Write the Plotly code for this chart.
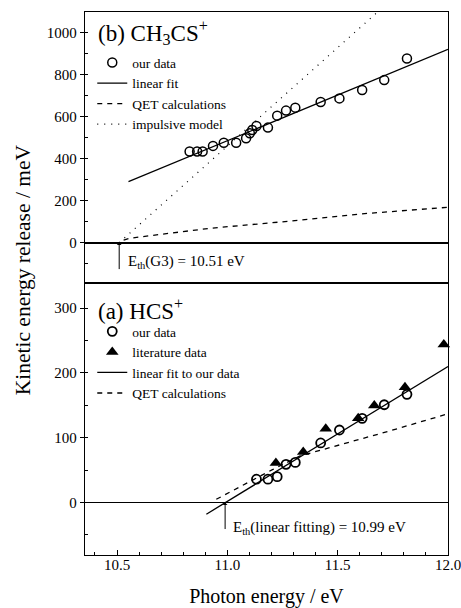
import plotly.graph_objects as go
from plotly.subplots import make_subplots

# ---- panel (b) CH3CS+ ----
b_x = [10.829, 10.863, 10.888, 10.935, 10.984, 11.040, 11.085, 11.102, 11.113, 11.132,
       11.184, 11.226, 11.266, 11.308, 11.423, 11.508, 11.611, 11.711, 11.814]
b_y = [433, 433, 433, 460, 475, 475, 496, 520, 536, 555,
       547, 604, 628, 642, 669, 686, 726, 773, 876]
b_fit_x = [10.552, 12.0]
b_fit_y = [290, 919]
b_qet_x = [10.53, 10.56, 10.92, 11.23, 11.61, 11.98, 12.0]
b_qet_y = [12, 21, 68, 97, 137, 167, 168]
b_imp_x = [10.51, 11.70]
b_imp_y = [0, 1115]

# ---- panel (a) HCS+ ----
a_x = [11.132, 11.184, 11.226, 11.266, 11.308, 11.423, 11.508, 11.611, 11.711, 11.814]
a_y = [36, 36, 40, 59, 62, 92, 112, 130, 151, 167]
a_lit_x = [11.220, 11.344, 11.446, 11.593, 11.666, 11.805, 11.981]
a_lit_y = [61, 78, 114, 130, 150, 178, 244]
a_fit_x = [10.905, 12.0]
a_fit_y = [-18, 210]
a_qet_x = [10.95, 11.0, 11.1, 11.2, 11.33, 11.48, 11.73, 12.0]
a_qet_y = [5, 14, 32, 50, 72, 86, 110, 137]

x_ticks = [10.5, 11.0, 11.5, 12.0]
x_ticklabels = ["10.5", "11.0", "11.5", "12.0"]

FONT = "Liberation Serif"

fig = make_subplots(rows=2, cols=1, shared_xaxes=True, vertical_spacing=0)

blk = "black"
# top traces
fig.add_trace(go.Scatter(x=b_x, y=b_y, mode="markers", name="our data",
                         marker=dict(symbol="circle-open", size=9, color=blk, line=dict(width=1.5)),
                         legend="legend"), row=1, col=1)
fig.add_trace(go.Scatter(x=b_fit_x, y=b_fit_y, mode="lines", name="linear fit",
                         line=dict(color=blk, width=1.3), legend="legend"), row=1, col=1)
fig.add_trace(go.Scatter(x=b_qet_x, y=b_qet_y, mode="lines", name="QET calculations",
                         line=dict(color=blk, width=1.3, dash="5px,5px"), legend="legend"), row=1, col=1)
fig.add_trace(go.Scatter(x=b_imp_x, y=b_imp_y, mode="lines", name="impulsive model",
                         line=dict(color=blk, width=1.2, dash="1px,6px"), legend="legend"), row=1, col=1)

# bottom traces
fig.add_trace(go.Scatter(x=a_x, y=a_y, mode="markers", name="our data",
                         marker=dict(symbol="circle-open", size=9, color=blk, line=dict(width=1.8)),
                         legend="legend2"), row=2, col=1)
fig.add_trace(go.Scatter(x=a_lit_x, y=a_lit_y, mode="markers", name="literature data",
                         marker=dict(symbol="triangle-up", size=11, color=blk), cliponaxis=False,
                         legend="legend2"), row=2, col=1)
fig.add_trace(go.Scatter(x=a_fit_x, y=a_fit_y, mode="lines", name="linear fit to our data",
                         line=dict(color=blk, width=1.3), legend="legend2"), row=2, col=1)
fig.add_trace(go.Scatter(x=a_qet_x, y=a_qet_y, mode="lines", name="QET calculations",
                         line=dict(color=blk, width=1.3, dash="5px,5px"), legend="legend2"), row=2, col=1)

tickfont = dict(family=FONT, size=15, color=blk)
common_x = dict(range=[10.355, 12.0], showline=True, linecolor=blk, linewidth=1.3, mirror=True,
                showgrid=False, zeroline=False, automargin=False)
fig.update_xaxes(**common_x, ticks="", showticklabels=False, row=1, col=1)
fig.update_xaxes(**common_x, ticks="inside", ticklen=5, tickwidth=1, tickcolor=blk,
                 tickvals=x_ticks, ticktext=x_ticklabels, tickfont=tickfont,
                 ticklabeloverflow="allow", ticklabelstandoff=-4,
                 minor=dict(ticks="inside", ticklen=3, dtick=0.1, tickcolor=blk),
                 title=dict(text="Photon energy / eV", font=dict(family=FONT, size=20, color=blk),
                            standoff=18),
                 row=2, col=1)

fig.update_yaxes(range=[-192, 1097], tickvals=[0, 200, 400, 600, 800, 1000],
                 showline=True, linecolor=blk, linewidth=1.3, mirror=True, showgrid=False,
                 ticks="outside", ticklen=4, tickcolor=blk, tickfont=tickfont, automargin=False,
                 minor=dict(ticks="inside", ticklen=3, dtick=100, tickcolor=blk),
                 zeroline=True, zerolinecolor=blk, zerolinewidth=1.8,
                 domain=[0.501, 1.0], row=1, col=1)
fig.update_yaxes(range=[-81, 339], tickvals=[0, 100, 200, 300],
                 showline=True, linecolor=blk, linewidth=1.3, mirror=True, showgrid=False,
                 ticks="outside", ticklen=4, tickcolor=blk, tickfont=tickfont, automargin=False,
                 minor=dict(ticks="inside", ticklen=3, dtick=50, tickcolor=blk),
                 zeroline=True, zerolinecolor=blk, zerolinewidth=1,
                 domain=[0.0, 0.501], row=2, col=1)

legfont = dict(family=FONT, size=13.5, color=blk)
fig.update_layout(
    width=461, height=608,
    margin=dict(l=85, r=13, t=12, b=53),
    paper_bgcolor="white", plot_bgcolor="white",
    font=dict(family=FONT, color=blk),
    legend=dict(x=0.02, y=0.935, xanchor="left", yanchor="top", font=legfont,
                bgcolor="rgba(0,0,0,0)", tracegroupgap=0, itemwidth=30),
    legend2=dict(x=0.02, y=0.44, xanchor="left", yanchor="top", font=legfont,
                 bgcolor="rgba(0,0,0,0)", tracegroupgap=0, itemwidth=30),
)

ann = []
ann.append(dict(text="(b) CH<sub>3</sub>CS<sup>+</sup>", xref="paper", yref="paper",
                x=0.03, y=1 - (32 - 12) / 543, xanchor="left", yanchor="middle",
                showarrow=False, font=dict(family=FONT, size=23, color=blk)))
ann.append(dict(text="(a) HCS<sup>+</sup>", xref="paper", yref="paper",
                x=0.03, y=1 - (309 - 12) / 543, xanchor="left", yanchor="middle",
                showarrow=False, font=dict(family=FONT, size=23, color=blk)))
# arrows
ann.append(dict(text="", x=10.51, y=0, xref="x", yref="y", ax=0, ay=28,
                showarrow=True, arrowhead=1, arrowsize=0.8, arrowwidth=1, arrowcolor=blk))
ann.append(dict(text="", x=10.99, y=0, xref="x2", yref="y2", ax=0, ay=28,
                showarrow=True, arrowhead=1, arrowsize=0.8, arrowwidth=1, arrowcolor=blk))
ann.append(dict(text="E<sub>th</sub>(G3) = 10.51 eV", x=10.54, y=-90, xref="x", yref="y",
                xanchor="left", yanchor="middle", showarrow=False,
                font=dict(family=FONT, size=15, color=blk)))
ann.append(dict(text="E<sub>th</sub>(linear fitting) = 10.99 eV", x=11.015, y=-40, xref="x2", yref="y2",
                xanchor="left", yanchor="middle", showarrow=False,
                font=dict(family=FONT, size=15, color=blk)))
ann.append(dict(text="Kinetic energy release / meV", xref="paper", yref="paper",
                x=-0.17, y=1 - (270 - 12) / 543, xanchor="center", yanchor="middle",
                textangle=-90, showarrow=False, font=dict(family=FONT, size=21.5, color=blk)))
fig.update_layout(annotations=ann)

fig.write_html("out.html", post_script="document.body.style.margin='0px';",
               config={"displayModeBar": False})
